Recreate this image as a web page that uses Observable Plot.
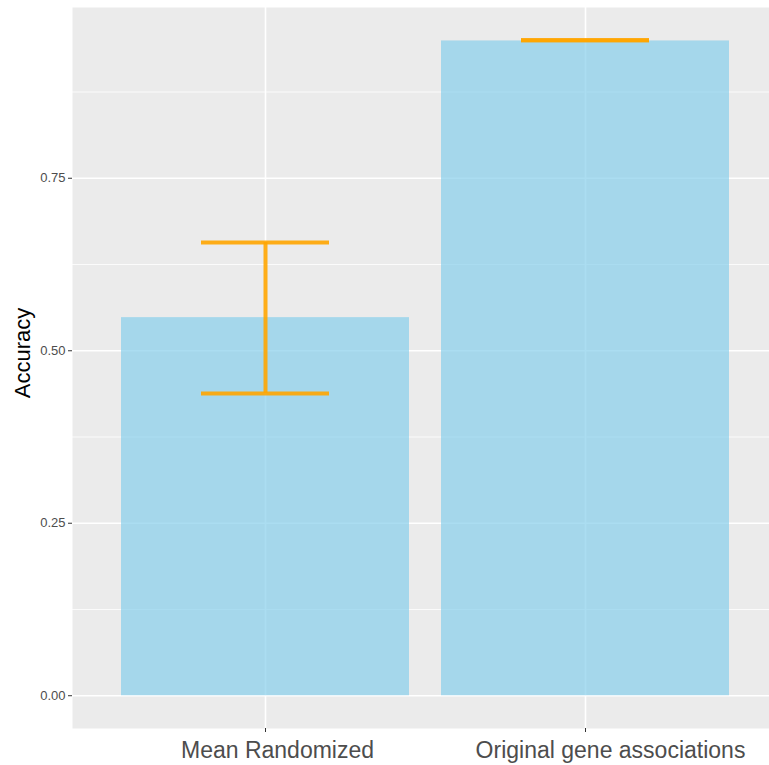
<!DOCTYPE html>
<html>
<head>
<meta charset="utf-8">
<script src="https://cdn.jsdelivr.net/npm/d3@7"></script>
<script src="https://cdn.jsdelivr.net/npm/@observablehq/plot@0.6"></script>
<style>
  html, body { margin: 0; padding: 0; background: white; overflow: hidden; }
</style>
</head>
<body>
<div id="chart"></div>
<script>
const categories = ["Mean Randomized", "Original gene associations"];
const accuracy = [0.548, 0.949];
const errLow = [0.438, 0.95];
const errHigh = [0.657, 0.95];
const yTicks = [0, 0.25, 0.5, 0.75];
const yMinorTicks = [0.125, 0.375, 0.625, 0.875];
const yLabel = "Accuracy";
const xLabelShift = [12, 25];

const data = categories.map((c, i) => ({
  category: c, accuracy: accuracy[i], low: errLow[i], high: errHigh[i]
}));

const labelMarks = categories.map((c, i) =>
  Plot.text([c], {x: d => d, text: d => d, frameAnchor: "bottom", dx: xLabelShift[i], dy: 29,
    fontSize: 23, fill: "#4d4d4d", textAnchor: "middle", lineAnchor: "bottom"})
);

const chart = Plot.plot({
  width: 769,
  height: 765,
  marginLeft: 72,
  marginTop: 7,
  marginBottom: 37,
  marginRight: 0,
  style: {fontFamily: "'Liberation Sans', Arial, Helvetica, sans-serif", background: "white", overflow: "hidden"},
  x: {domain: categories, range: [72, 778], paddingInner: 0.1, paddingOuter: 0.15, axis: null},
  y: {domain: [-0.0475, 0.9975], axis: null},
  marks: [
    Plot.frame({fill: "#ebebeb", stroke: null}),
    Plot.gridY(yMinorTicks, {stroke: "white", strokeOpacity: 1, strokeWidth: 0.8}),
    Plot.gridY(yTicks, {stroke: "white", strokeOpacity: 1, strokeWidth: 1.6}),
    Plot.gridX(categories, {stroke: "white", strokeOpacity: 1, strokeWidth: 1.6}),
    Plot.barY(data, {x: "category", y: "accuracy", fill: "skyblue", fillOpacity: 0.7}),
    Plot.ruleX(data, {x: "category", y1: "low", y2: "high", stroke: "orange", strokeOpacity: 0.9, strokeWidth: 4}),
    Plot.tickY(data, {x: "category", y: "low", stroke: "orange", strokeOpacity: 0.9, strokeWidth: 4, insetLeft: 80, insetRight: 80}),
    Plot.tickY(data, {x: "category", y: "high", stroke: "orange", strokeOpacity: 0.9, strokeWidth: 4, insetLeft: 80, insetRight: 80}),
    Plot.axisY(yTicks, {tickSize: 4, tickPadding: 3, tickFormat: d3.format(".2f"), fontSize: 13, fill: "#4d4d4d", stroke: "#333333", label: null}),
    Plot.axisX({tickSize: 4, tickFormat: () => "", stroke: "#333333", label: null}),
    ...labelMarks,
    Plot.text([yLabel], {frameAnchor: "left", text: d => d, rotate: -90, dx: -50, dy: -15, fontSize: 22, fill: "black", textAnchor: "middle"})
  ]
});
document.getElementById("chart").appendChild(chart);
</script>
</body>
</html>
